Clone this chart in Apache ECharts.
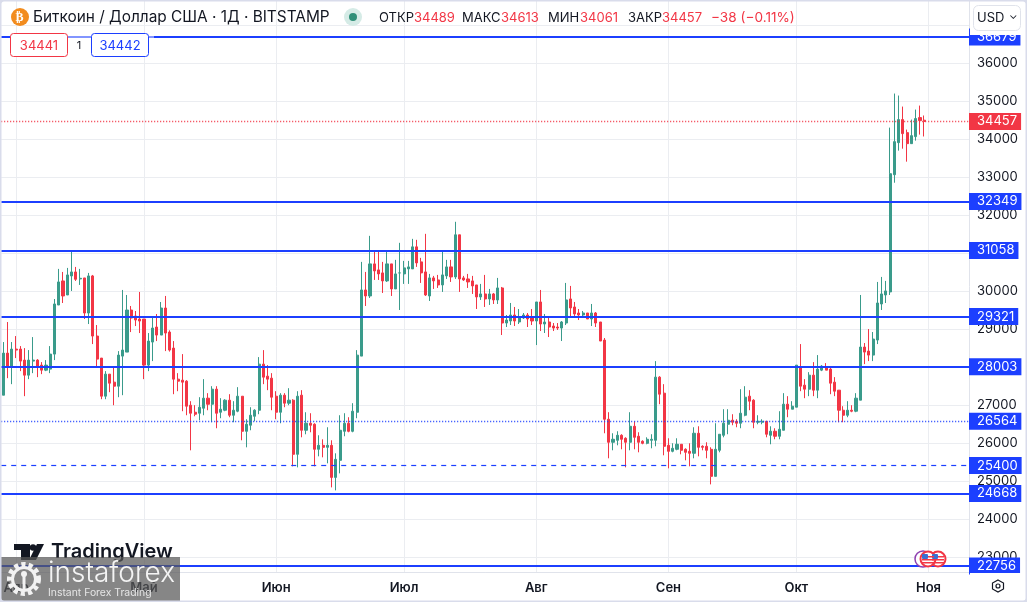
<!DOCTYPE html>
<html lang="ru">
<head>
<meta charset="utf-8" />
<title>BTCUSD</title>
<script src="https://cdn.jsdelivr.net/npm/echarts@6/dist/echarts.min.js"></script>
<style>
html,body{margin:0;padding:0;background:#fff;}
#chart{width:1027px;height:602px;}
</style>
</head>
<body>
<div id="chart"></div>
<script>
// open, close, low, high, daily, 2023-03-29 .. 2023-10-31
var candles = [
[27253,28360,27253,28651],[28360,28018,27701,29178],[28018,28466,27543,28651],
// apr
[28466,28440,28229,28809],[28466,28150,27886,28545],[28176,27780,27227,28492],[27780,28176,27675,28440],[28150,28176,27833,28782],
[28176,28018,27728,28202],[28044,27912,27807,28123],[27912,28044,27886,28176],[27939,28334,27833,28545],[28334,29653,28176,29784],
[29626,30233,29626,30576],[30259,29864,29679,30496],[29890,30417,29890,30602],[30391,30496,29995,31024],[30496,30303,30259,30628],
[30312,30329,30154,30576],[30338,29415,29257,30338],[29415,30391,29125,30470],[30391,28809,28598,30417],[28809,28202,27991,29099],
[28229,27227,27147,28229],[27227,27807,27147,27886],[27807,27569,27332,27807],[27596,27490,26989,27991],[27490,28308,27200,28413],
[28281,28440,27253,30022],[28387,29494,28387,29890],[29494,29283,28914,29600],[29336,29231,29072,29468],[29257,29204,28888,29969],
// may
[29257,28044,27675,29257],[28044,28677,27886,28888],[28651,29020,28150,29310],[29046,28835,28677,29389],[28835,29547,28835,29705],
[29547,28888,28413,29864],[28914,28440,28400,28960],[28492,27675,27279,28677],[27675,27622,27358,27833],[27648,27596,26831,28334],
[27622,26963,26725,27648],[26989,26778,25802,27095],[26804,26752,26699,26989],[26778,26936,26593,27200],[26910,27174,26725,27675],
[27174,27015,26857,27306],[27015,27411,26541,27490],[27411,26778,26383,27490],[26804,26884,26646,27174],[26857,27121,26831,27147],
[27121,26725,26673,27279],[26725,26857,26541,27095],[26831,27226,26804,27464],[27226,26303,26066,27226],[26303,26488,25881,26620],
[26462,26725,26330,26936],[26699,26857,26567,26884],[26857,28070,26752,28255],[28070,27727,27543,28439],[27754,27675,27385,28044],
// jun
[27701,27200,26857,27833],[27226,26804,26620,27358],[26804,27253,26514,27306],[27253,27042,26936,27306],[27042,27121,26989,27437],
[27121,25697,25380,27147],[25697,27226,25354,27358],[27253,26330,26145,27385],[26330,26514,26224,26804],[26514,26462,26277,26778],
[26488,25829,25380,26514],[25829,25934,25644,26198],[25934,25881,25618,26092],[25881,25934,25460,26409],[25934,25090,24827,26066],
[25090,25565,24748,25723],[25539,26330,25196,26725],[26303,26514,26172,26778],[26514,26303,26277,26673],[26303,26831,26277,27042],
[26804,28307,26646,28439],[28281,30022,28281,30761],[30022,29864,29600,30497],[29864,30708,29811,31446],[30708,30523,30286,31024],
[30550,30444,30286,31051],[30471,30260,29943,30761],[30260,30708,30233,31051],[30708,30049,29864,30708],[30049,30444,30049,30814],
// jul
[30471,30471,29495,31262],[30444,30603,30181,30787],[30576,30629,30181,30787],[30576,31156,30576,31367],[31156,30734,30629,31341],
[30761,30471,30207,30866],[30497,29890,29864,31499],[29864,30339,29732,30444],[30339,30260,30049,30392],[30286,30154,30075,30418],
[30154,30418,29970,31051],[30392,30629,30312,30814],[30629,30365,30233,30814],[30365,31473,30312,31816],[31473,30312,29970,31473],
[30339,30286,30260,30392],[30312,30233,30075,30444],[30260,30128,29917,30392],[30154,29838,29521,30154],[29838,29917,29759,30181],
[29917,29785,29574,30418],[29785,29917,29627,30049],[29917,29759,29653,29943],[29759,30075,29653,30339],[30075,29152,28836,30101],
[29152,29231,29047,29363],[29205,29363,29099,29680],[29363,29205,29073,29574],[29179,29310,29126,29521],[29284,29363,29258,29416],
[29363,29258,29047,29416],
// aug
[29310,29205,29099,29521],[29205,29706,28572,29706],[29706,29126,28941,30022],[29126,29179,28889,29390],[29179,29047,28783,29310],
[29073,29020,28941,29152],[29047,29020,28968,29152],[29020,29179,28678,29205],[29152,29759,29099,30207],[29785,29548,29310,30128],
[29574,29390,29284,29706],[29416,29363,29231,29521],[29363,29416,29337,29469],[29416,29258,29258,29416],[29258,29416,29073,29653],
[29416,29152,29047,29442],[29179,28678,28678,29179],[28703,26620,26251,28757],[26620,26014,25592,26805],[26014,26093,25803,26251],
[26066,26198,25934,26304],[26198,26093,25829,26225],[26119,26014,25354,26145],[26014,26435,25803,26805],[26435,26145,25829,26567],
[26172,26014,25750,26277],[26040,25987,25961,26066],[25987,26093,25961,26145],[26066,26093,25855,26225],[26066,27728,25908,28150],
[27728,27279,27016,27754],
// sep
[27306,25908,25671,27543],[25934,25776,25328,26119],[25776,25855,25750,25987],[25829,25961,25803,26119],[25961,25803,25697,25961],
[25829,25750,25539,25855],[25776,25724,25381,25987],[25724,26251,25592,26409],[26251,25882,25644,26435],[25908,25882,25803,25934],
[25908,25803,25592,26014],[25829,25117,24906,25882],[25117,25829,25117,26515],[25803,26225,25750,26225],[26198,26515,26145,26884],
[26488,26594,26225,26884],[26594,26541,26462,26752],[26567,26515,26409,26620],[26515,26778,26383,27411],[26725,27200,26699,27490],
[27227,27095,26857,27385],[27121,26541,26383,27147],[26541,26567,26488,26725],[26541,26567,26488,26620],[26567,26225,26145,26567],
[26198,26304,25961,26435],[26304,26172,26093,26383],[26172,26356,26093,26831],[26330,27016,26330,27306],[27016,26884,26673,27227],
// oct
[26884,26963,26884,27095],[26937,28044,26937,28044],[27991,27490,27358,28598],[27517,27411,27174,27675],[27411,27780,27227,27859],
[27780,27385,27227,28123],[27385,27939,27174,28308],[27912,28018,27886,28044],[27991,27912,27912,28097],[27939,27569,27279,28018],
[27596,27358,27227,27728],[27385,26857,26541,27385],[26857,26725,26541,26963],[26725,26857,26673,27095],[26857,26831,26805,26989],
[26831,27174,26805,27306],[27122,28519,27122,29890],[28519,28387,28071,28625],[28414,28308,28150,28994],[28308,28730,28150,28915],
[28704,29679,28598,30233],[29653,29917,29495,30365],[29890,29996,29679,30260],[29970,33081,29890,34294],[33055,33925,32844,35191],
[33899,34505,33688,35138],[34505,34136,33740,34848],[34162,33872,33398,34242],[33872,34083,33872,34505],[34057,34532,33951,34769],
[34558,34479,34110,34874],[34489,34457,34061,34613]
];
var firstDay = '2023-03-29';
var dayCount = 227;                 // chart runs on a few empty days past the last bar
var monthNames = {'04':'Апр','05':'Май','06':'Июн','07':'Июл','08':'Авг','09':'Сен','10':'Окт','11':'Ноя'};

var solidLevels = [36679,32349,31058,29321,28003,24668,22756];
var dottedLevel = 26564;
var dashedLevel = 25400;
var lastPrice = 34457;

var gridTicks = [23000,24000,25000,26000,27000,28000,29000,30000,31000,32000,33000,34000,35000,36000,37000];
var priceLabels = [23000,24000,25000,26000,27000,28000,29000,30000,31000,32000,33000,34000,35000,36000];

var BLUE = '#1c3fff', RED = '#f23645', GREEN = '#3a9b8b', INK = '#131722', FONT = 'Inter';

var days = [];
for (var d = 0; d < dayCount; d++) {
	days.push(new Date(Date.parse(firstDay + 'T00:00:00Z') + d * 86400000).toISOString().slice(0, 10));
}
var isMonthStart = function (idx, val) { return val.slice(8) === '01'; };

function levelLine(value, type, width, color) {
	return {
		yAxis: value,
		lineStyle: { color: color, type: type, width: width },
		label: { backgroundColor: color }
	};
}
var levelData = solidLevels.map(function (v) { return levelLine(v, 'solid', 2, BLUE); });
levelData.push(levelLine(dottedLevel, [1, 2], 1.4, BLUE));
levelData.push(levelLine(dashedLevel, [5, 5], 1.2, BLUE));
levelData.push(levelLine(lastPrice, [1, 2], 1.4, RED));

function label(x, y, text, color, size, extra) {
	var style = { x: x, y: y, text: text, fill: color, font: (size || 13) + 'px ' + FONT, verticalAlign: 'middle' };
	for (var k in (extra || {})) style[k] = extra[k];
	return { type: 'text', z: 110, silent: true, style: style };
}
function box(x, y, w, h, fill, stroke, r, lw) {
	return { type: 'rect', z: 105, silent: true, shape: { x: x, y: y, width: w, height: h, r: r || 0 }, style: { fill: fill, stroke: stroke || null, lineWidth: lw || 1 } };
}
function dot(cx, cy, r, fill, stroke, lw) {
	return { type: 'circle', z: 108, silent: true, shape: { cx: cx, cy: cy, r: r }, style: { fill: fill, stroke: stroke || null, lineWidth: lw || 1 } };
}
function flag(cx, cy) {
	var parts = [dot(cx, cy, 7.5, '#fff', RED, 2)];
	[-3, 0, 3].forEach(function (o) {
		parts.push(Object.assign(box(cx - 6, cy + o, 12, 1.5, RED), { z: 109 }));
	});
	parts.push(Object.assign(box(cx - 6, cy - 5, 6, 5, '#3b6fd1', null, 1), { z: 109 }));
	return parts;
}

var overlay = [
	// price scale top corner and USD button
	box(970, 0, 57, 35, '#fff'),
	box(973.5, 5.5, 47, 25, '#fff', '#e0e3eb', 5),
	label(977, 18, 'USD', INK, 13),
	label(1009, 16, '⌄', INK, 11),
	// time scale strip
	box(970, 573, 57, 8, '#fff'),
	{ type: 'polygon', z: 108, silent: true, shape: { points: [[998,580],[1003.5,583],[1003.5,589],[998,592],[992.5,589],[992.5,583]] }, style: { fill: '#fff', stroke: INK, lineWidth: 1.2 } },
	dot(998, 586, 2, '#fff', INK, 1.2),
	// header
	dot(20, 17, 9, '#f28c1e'),
	label(15.5, 17.5, '₿', '#fff', 12, { font: 'bold 12px "DejaVu Sans"' }),
	label(33, 17, 'Биткоин / Доллар США · 1Д · BITSTAMP', INK, 15.4),
	dot(353, 17, 9, '#d5ebe6'),
	dot(353, 17, 4, '#2f8f78'),
	label(379, 18, 'ОТКР', INK), label(414, 18, '34489', RED),
	label(462, 18, 'МАКС', INK), label(501, 18, '34613', RED),
	label(548, 18, 'МИН', INK), label(580, 18, '34061', RED),
	label(628, 18, 'ЗАКР', INK), label(662, 18, '34457', RED),
	label(711, 18, '−38 (−0.11%)', RED, 13.6),
	// order buttons
	box(68, 34, 86, 6, 'rgba(255,255,255,0.45)'),
	box(10.5, 33.5, 57, 23, '#fff', RED, 3),
	label(39, 46, '34441', RED, 13, { align: 'center' }),
	label(79, 46, '1', INK, 11, { align: 'center' }),
	box(91.5, 33.5, 57, 23, '#fff', BLUE, 3),
	label(120, 46, '34442', BLUE, 13, { align: 'center' }),
	// TradingView logo
	box(14, 544, 16, 6, '#131722'), box(21, 544, 9, 16, '#131722'),
	dot(33, 547.5, 3.2, '#131722'),
	{ type: 'polygon', z: 108, silent: true, shape: { points: [[37,544],[44,544],[36,560],[29,560]] }, style: { fill: '#131722' } },
	label(51, 552, 'TradingView', INK, 20, { font: '600 20px ' + FONT }),
	// events
	dot(923, 559, 8, '#fff', '#8e3fb0', 1.5)
].concat(flag(938, 559), flag(928, 559), [
	// watermark
	Object.assign(box(0, 557, 180, 45, 'rgba(88,88,88,0.72)'), { z: 120 }),
	{ type: 'circle', z: 121, silent: true, shape: { cx: 24, cy: 579, r: 14 }, style: { fill: null, stroke: '#f2f2f2', lineWidth: 6, lineDash: [4, 3] } },
	{ type: 'circle', z: 121, silent: true, shape: { cx: 24, cy: 579, r: 11.5 }, style: { fill: null, stroke: '#f2f2f2', lineWidth: 3 } },
	Object.assign(dot(24, 574, 3, '#f2f2f2'), { z: 121 }),
	Object.assign(box(22.5, 576, 3, 14, '#f2f2f2'), { z: 121 }),
	Object.assign(label(48, 574, 'instaforex', '#f4f4f4', 28, { font: '300 28px ' + FONT }), { z: 121 }),
	Object.assign(label(48, 593, 'Instant Forex Trading', '#e6e6e6', 10.4), { z: 121 }),
	// window edge
	{ type: 'rect', z: 130, silent: true, shape: { x: 0, y: 0, width: 1027, height: 602, r: 4 }, style: { fill: null, stroke: '#d9dceb', lineWidth: 3 } }
]);

var chart = echarts.init(document.getElementById('chart'));
chart.setOption({
	animation: false,
	backgroundColor: '#fff',
	textStyle: { fontFamily: FONT },
	grid: { left: 1.2, right: 58, top: 1, bottom: 30 },
	xAxis: {
		type: 'category',
		data: days,
		boundaryGap: true,
		axisLine: { show: true, lineStyle: { color: '#e0e3eb' } },
		axisTick: { show: false },
		axisLabel: {
			interval: isMonthStart,
			color: INK,
			fontSize: 13,
			fontWeight: 600,
			margin: 10,
			formatter: function (val) { return monthNames[val.slice(5, 7)]; }
		},
		splitLine: { show: true, interval: isMonthStart, alignWithLabel: true, lineStyle: { color: '#ebedf1', width: 1 } }
	},
	yAxis: {
		type: 'value',
		position: 'right',
		min: 22600,
		max: 37626,
		scale: true,
		axisLine: { show: true, lineStyle: { color: '#e0e3eb' } },
		axisTick: { show: false, customValues: gridTicks },
		axisLabel: { customValues: priceLabels, color: INK, fontSize: 13, margin: 8, formatter: function (v) { return String(v); } },
		splitLine: { show: true, lineStyle: { color: '#ebedf1', width: 1 } }
	},
	series: [{
		type: 'candlestick',
		data: candles,
		barWidth: 2.6,
		itemStyle: { color: GREEN, color0: RED, borderColor: GREEN, borderColor0: RED, borderWidth: 1 },
		markLine: {
			silent: true,
			symbol: 'none',
			animation: false,
			precision: 0,
			label: {
				show: true,
				position: 'end',
				distance: 0,
				color: '#fff',
				fontSize: 13,
				fontFamily: FONT,
				padding: [2, 4, 2, 8],
				formatter: function (p) { return String(p.value); }
			},
			data: levelData
		}
	}],
	graphic: { elements: overlay }
});

window.onresize = function () { chart.resize(); };
</script>
</body>
</html>
